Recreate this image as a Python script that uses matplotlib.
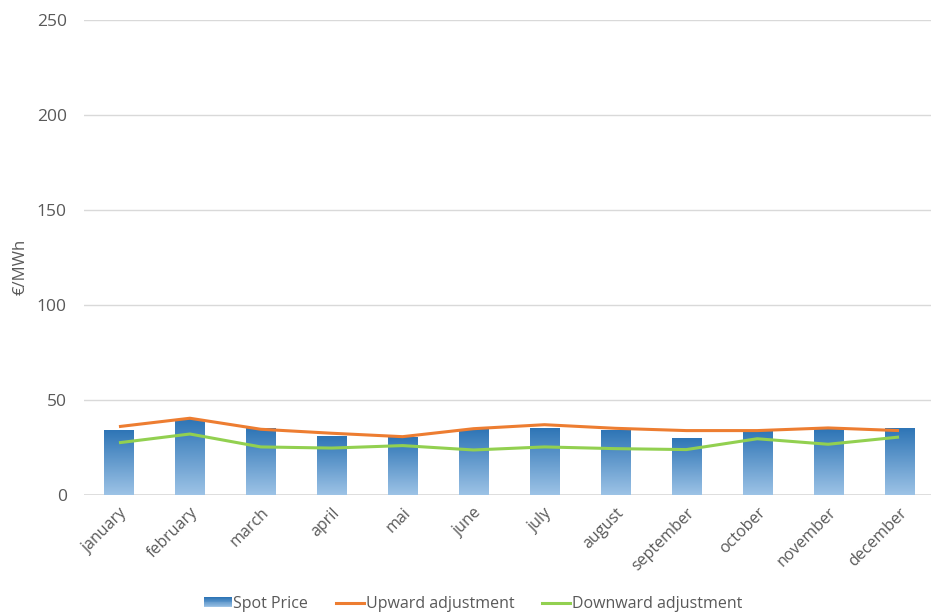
import matplotlib
matplotlib.use("Agg")
import matplotlib.pyplot as plt
import numpy as np
from matplotlib.patches import Rectangle
from matplotlib.colors import LinearSegmentedColormap
from matplotlib.legend_handler import HandlerBase

months = ["january", "february", "march", "april", "mai", "june", "july",
          "august", "september", "october", "november", "december"]
spot_price = [34.0, 39.8, 35.1, 30.9, 30.4, 34.6, 35.1, 34.0, 29.8, 33.7, 34.6, 35.1]
upward_adj = [36.0, 40.4, 34.6, 32.5, 30.7, 34.9, 37.0, 35.1, 33.9, 33.9, 35.3, 33.9]
downward_adj = [27.5, 32.1, 25.3, 24.7, 26.0, 23.7, 25.3, 24.4, 23.9, 29.6, 26.7, 30.5]
y_ticks = [0, 50, 100, 150, 200, 250]

TEXT = "#595959"
GRID = "#D9D9D9"
BAR_TOP = "#2E75B6"
BAR_BOTTOM = "#9DC3E6"
ORANGE = "#ED7D31"
GREEN = "#92D050"

plt.rcParams["font.family"] = ["Open Sans", "DejaVu Sans"]

grad_cmap = LinearSegmentedColormap.from_list("bar_grad", [BAR_BOTTOM, BAR_TOP])
grad = np.linspace(0, 1, 256).reshape(-1, 1)


class GradientHandler(HandlerBase):
    # legend key drawn as thin horizontal strips, dark on top
    def create_artists(self, legend, orig_handle, xdescent, ydescent,
                       width, height, fontsize, trans):
        n = 12
        arts = []
        for k in range(n):
            r = Rectangle((-xdescent, -ydescent + height * k / n), width, height / n + 0.2,
                          facecolor=grad_cmap(k / (n - 1)), edgecolor="none",
                          transform=trans)
            arts.append(r)
        return arts


W, H = 931, 615
fig = plt.figure(figsize=(W / 100, H / 100), dpi=100)
ax = fig.add_axes([83.5 / W, 1 - 495 / H, 851 / W, (495 - 20) / H])

x = np.arange(len(months))
bar_w = 0.41
bars = ax.bar(x, spot_price, width=bar_w, color="none", edgecolor="none", zorder=2)
for b in bars:
    x0, y0 = b.get_x(), b.get_y()
    w, h = b.get_width(), b.get_height()
    im = ax.imshow(grad, cmap=grad_cmap, aspect="auto", origin="lower",
                   extent=(x0, x0 + w, y0, y0 + h), zorder=2)
    im.set_clip_path(b)

ax.plot(x, upward_adj, color=ORANGE, lw=2.2, zorder=3, solid_capstyle="butt")
ax.plot(x, downward_adj, color=GREEN, lw=2.2, zorder=3, solid_capstyle="butt")

ax.set_xlim(-0.5, len(months) - 0.5)
ax.set_ylim(0, 250)
ax.set_yticks(y_ticks)
ax.yaxis.grid(True, color=GRID, lw=1)
ax.set_axisbelow(True)
for s in ax.spines.values():
    s.set_visible(False)
ax.axhline(0, color=GRID, lw=1.2, zorder=1)

ax.tick_params(axis="y", length=0, colors=TEXT, labelsize=12.5, pad=12)
ax.set_xticks(x)
ax.set_xticklabels(months, rotation=45, ha="right", rotation_mode="anchor")
ax.tick_params(axis="x", length=0, colors=TEXT, labelsize=11.5, pad=7)
ax.set_ylabel("€/MWh", color=TEXT, fontsize=12)
ax.yaxis.set_label_coords(-0.064, 0.48)

handles = [Rectangle((0, 0), 1, 1),
           plt.Line2D([], [], color=ORANGE, lw=2.2),
           plt.Line2D([], [], color=GREEN, lw=2.2)]
labels = ["Spot Price", "Upward adjustment", "Downward adjustment"]
fig.legend(handles, labels, loc="center", bbox_to_anchor=(473 / W, 1 - 604 / H),
           ncol=3, frameon=False, fontsize=11.5, labelcolor=TEXT,
           handlelength=1.75, handleheight=0.55, handletextpad=0.1, columnspacing=1.75,
           borderpad=0, handler_map={Rectangle: GradientHandler()})

fig.savefig("out.png", dpi=100)
